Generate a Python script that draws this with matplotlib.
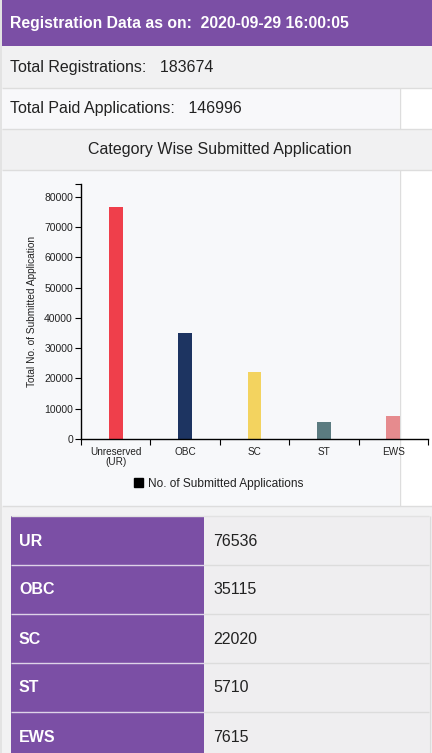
import matplotlib
matplotlib.use("Agg")
import matplotlib.pyplot as plt
from matplotlib.patches import Rectangle, Patch

plt.rcParams['font.family'] = ['Liberation Sans', 'DejaVu Sans']

# ---- data ----
report_time = "2020-09-29 16:00:05"
total_registrations = 183674
total_paid = 146996
categories = ["Unreserved\n(UR)", "OBC", "SC", "ST", "EWS"]
table_labels = ["UR", "OBC", "SC", "ST", "EWS"]
values = [76536, 35115, 22020, 5710, 7615]
bar_colors = ["#ef3f4b", "#1d3461", "#f3d35f", "#5b7b80", "#e68b8e"]
yticks = [0, 10000, 20000, 30000, 40000, 50000, 60000, 70000, 80000]

W, H = 432, 753
fig = plt.figure(figsize=(W / 100, H / 100), dpi=100)
fig.patch.set_facecolor("white")

bg = fig.add_axes([0, 0, 1, 1])
bg.set_xlim(0, W)
bg.set_ylim(H, 0)
bg.axis("off")

PURPLE = "#7b4fa5"
BORDER = "#dddddd"

def rect(x0, y0, x1, y1, color, **kw):
    bg.add_patch(Rectangle((x0, y0), x1 - x0, y1 - y0, facecolor=color,
                           edgecolor="none", **kw))

def hline(y, x0, x1, color=BORDER, lw=1.0):
    bg.plot([x0, x1], [y, y], color=color, lw=lw, solid_capstyle="butt")

def vline(x, y0, y1, color=BORDER, lw=1.0):
    bg.plot([x, x], [y0, y1], color=color, lw=lw, solid_capstyle="butt")

# left outer border
rect(0, 0, 2, H, "#e3e3e3")
# header
rect(2, 0, W, 46, PURPLE)
bg.text(10, 23, f"Registration Data as on:  {report_time}", color="white",
        fontsize=11.3, fontweight="bold", va="center", ha="left")
# total registrations row
rect(2, 46, W, 88, "#f1f1f2")
bg.text(10, 67, f"Total Registrations:   {total_registrations}", color="#222222",
        fontsize=11.5, va="center", ha="left")
hline(88, 2, W)
# total paid row
rect(2, 88, 399, 129, "#f8f8fa")
rect(399, 88, W, 129, "white")
vline(399.5, 88, 129)
bg.text(10, 108, f"Total Paid Applications:   {total_paid}", color="#222222",
        fontsize=11.5, va="center", ha="left")
hline(129, 2, W)
# chart title row
rect(2, 129, W, 170, "#f1f1f2")
bg.text(220, 149.5, "Category Wise Submitted Application", color="#222222",
        fontsize=11.5, va="center", ha="center")
hline(170, 2, W)
# chart panel
rect(2, 170, 399, 506, "#f7f8fa")
rect(399, 170, W, 506, "white")
vline(399.5, 170, 506)
hline(506, 2, W)
# area around table
rect(2, 507, W, H, "#f2f2f3")

# table
row_top = 516
row_h = 49
for i, (lab, val) in enumerate(zip(table_labels, values)):
    y0 = row_top + i * row_h
    rect(11, y0, 204, y0 + row_h, PURPLE)
    rect(204, y0, 429, y0 + row_h, "#efeef0")
    bg.text(19, y0 + row_h / 2 + 0.5, lab, color="white", fontsize=11.5,
            fontweight="bold", va="center", ha="left")
    bg.text(213, y0 + row_h / 2 + 0.5, f"{val}", color="#222222", fontsize=11.5,
            va="center", ha="left")
    if i > 0:
        hline(y0, 11, 204, color="#ddd3e8", lw=1.0)
        hline(y0, 204, 429, color="#dcdcdc", lw=1.0)
hline(row_top, 11, 429, color="#e2e2e2")
vline(429.5, row_top, H, color="#dcdcdc")

# ---- bar chart ----
ax_l, ax_r = 81, 428
ax_t, ax_b = 184.3, 439
ax = fig.add_axes([ax_l / W, 1 - ax_b / H, (ax_r - ax_l) / W, (ax_b - ax_t) / H])
ax.patch.set_alpha(0)
x = list(range(len(categories)))
ax.bar(x, values, width=0.2, color=bar_colors)
ax.set_xlim(-0.5, len(categories) - 0.5)
ymax = max(values) * 1.1
ax.set_ylim(0, ymax)
ax.spines["top"].set_visible(False)
ax.spines["right"].set_visible(False)
for s in ("left", "bottom"):
    ax.spines[s].set_color("black")
    ax.spines[s].set_linewidth(1.0)

ax.set_yticks(yticks + [ymax])
ax.set_yticklabels([str(v) for v in yticks] + [""])
ax.tick_params(axis="y", length=4.3, width=0.8, pad=1.5, labelsize=7.5,
               colors="black", labelcolor="#222222")

edges = [i - 0.5 for i in range(len(categories) + 1)]
ax.set_xticks(edges)
ax.set_xticklabels([""] * len(edges))
ax.tick_params(axis="x", which="major", length=4.3, width=0.8, colors="black")
ax.set_xticks(x, minor=True)
ax.set_xticklabels(categories, minor=True, fontsize=7.2, color="#222222",
                   linespacing=0.95)
ax.tick_params(axis="x", which="minor", length=0, pad=6)

ax.set_ylabel("Total No. of Submitted Application", fontsize=7.3, color="#222222")
ax.yaxis.set_label_coords(-0.128, 0.5)

leg = fig.legend(handles=[Patch(facecolor="black", edgecolor="black",
                                label="No. of Submitted Applications")],
                 loc="center left", bbox_to_anchor=(134 / W, 1 - 483.5 / H),
                 frameon=False, fontsize=8.6, handlelength=0.75, handleheight=0.75,
                 handletextpad=0.45, borderpad=0, borderaxespad=0)
for t in leg.get_texts():
    t.set_color("#222222")

fig.savefig("out.png", dpi=100)
